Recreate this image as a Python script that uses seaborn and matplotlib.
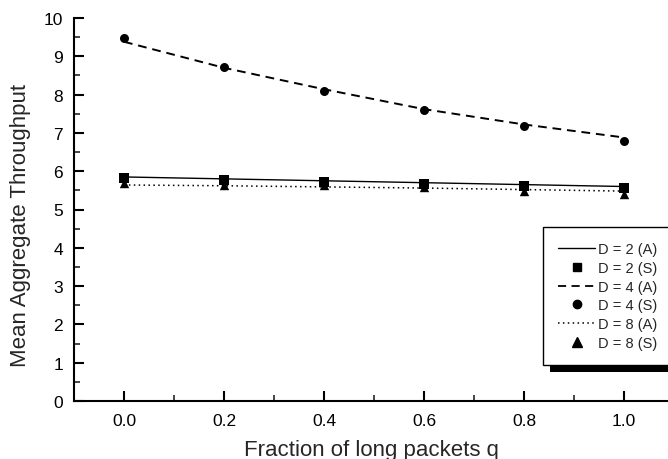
import matplotlib
matplotlib.use("Agg")
import matplotlib.pyplot as plt
from matplotlib.lines import Line2D
from matplotlib.patches import Rectangle
import seaborn as sns

q = [0.0, 0.2, 0.4, 0.6, 0.8, 1.0]
d2_analysis = [5.85, 5.80, 5.75, 5.70, 5.65, 5.60]
d2_sim = [5.82, 5.77, 5.72, 5.67, 5.62, 5.57]
d4_analysis = [9.38, 8.70, 8.14, 7.62, 7.22, 6.88]
d4_sim = [9.48, 8.71, 8.10, 7.59, 7.18, 6.80]
d8_analysis = [5.64, 5.62, 5.59, 5.56, 5.52, 5.48]
d8_sim = [5.68, 5.65, 5.64, 5.58, 5.49, 5.41]
xtick_labels = ["0.0", "0.2", "0.4", "0.6", "0.8", "1.0"]
series_labels = ["D = 2 (A)", "D = 2 (S)", "D = 4 (A)", "D = 4 (S)", "D = 8 (A)", "D = 8 (S)"]

sns.set_style("ticks")
plt.rcParams["font.family"] = ["Liberation Sans", "DejaVu Sans"]

fig = plt.figure(figsize=(6.68, 4.60), dpi=100)
ax = fig.add_axes([74 / 668, 1 - 402 / 460, 600 / 668, 383 / 460])

dash4 = (0, (4.5, 3.0))
dot8 = (0, (1, 2.2))
sns.lineplot(x=q, y=d2_analysis, ax=ax, color="black", linewidth=1.0, linestyle="-")
sns.lineplot(x=q, y=d4_analysis, ax=ax, color="black", linewidth=1.4, linestyle=dash4)
sns.lineplot(x=q, y=d8_analysis, ax=ax, color="black", linewidth=1.1, linestyle=dot8)
sns.scatterplot(x=q, y=d2_sim, ax=ax, color="black", marker="s", s=42, linewidth=0, zorder=3)
sns.scatterplot(x=q, y=d4_sim, ax=ax, color="black", marker="o", s=42, linewidth=0, zorder=3)
sns.scatterplot(x=q, y=d8_sim, ax=ax, color="black", marker="^", s=46, linewidth=0, zorder=3)

ax.set_xlim(-0.1, 1.1)
ax.set_ylim(0, 10)
ax.set_xticks(q)
ax.set_xticklabels(xtick_labels)
ax.set_xticks([-0.1, 0.1, 0.3, 0.5, 0.7, 0.9, 1.1], minor=True)
ax.set_yticks(range(0, 11))
ax.set_yticks([i + 0.5 for i in range(10)], minor=True)
ax.tick_params(which="major", direction="in", length=7, width=1.5, labelsize=12.5, colors="black")
ax.tick_params(axis="x", which="major", pad=9)
ax.tick_params(axis="y", which="major", pad=8)
ax.tick_params(which="minor", direction="in", length=4, width=1.2)

for s in ["top", "right"]:
    ax.spines[s].set_visible(False)
for s in ["left", "bottom"]:
    ax.spines[s].set_linewidth(1.5)
    ax.spines[s].set_color("black")

ax.set_xlabel("Fraction of long packets q", fontsize=16)
ax.set_ylabel("Mean Aggregate Throughput", fontsize=16)
ax.xaxis.set_label_coords(0.495, -0.098)
ax.yaxis.set_label_coords(-0.072, 0.46)

handles = [
    Line2D([], [], color="black", linewidth=1.0, linestyle="-"),
    Line2D([], [], color="black", marker="s", markersize=6, linestyle="none"),
    Line2D([], [], color="black", linewidth=1.3, linestyle=dash4),
    Line2D([], [], color="black", marker="o", markersize=6, linestyle="none"),
    Line2D([], [], color="black", linewidth=1.1, linestyle=dot8),
    Line2D([], [], color="black", marker="^", markersize=6.5, linestyle="none"),
]
leg = ax.legend(handles, series_labels, loc="upper left",
                bbox_to_anchor=(543 / 668, 1 - 228 / 460), bbox_transform=fig.transFigure,
                borderaxespad=0, fontsize=10.5, frameon=True, fancybox=False, borderpad=1.05,
                labelspacing=0.32, handlelength=2.5, handletextpad=0.2)
leg.get_frame().set_edgecolor("black")
leg.get_frame().set_linewidth(1.0)
leg.get_frame().set_alpha(1)
leg.set_zorder(5)

fig.canvas.draw()
bb = leg.get_window_extent()
inv = ax.transAxes.inverted()
(x0, y0) = inv.transform((bb.x0 + 7, bb.y0 - 7))
(x1, y1) = inv.transform((bb.x1 + 7, bb.y1 - 7))
shadow = Rectangle((x0, y0), x1 - x0, y1 - y0, transform=ax.transAxes,
                   facecolor="black", edgecolor="none", zorder=4.9, clip_on=False)
ax.add_patch(shadow)

fig.savefig("out.png", dpi=100)
